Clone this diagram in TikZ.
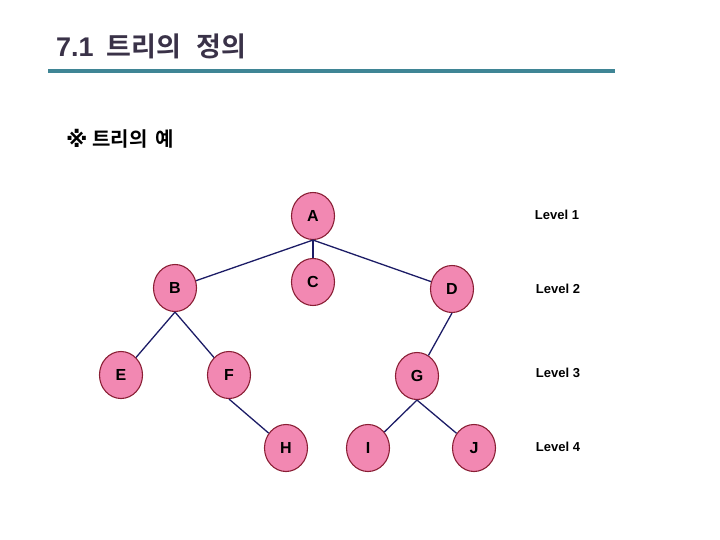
\documentclass[tikz,border=0pt]{standalone}
\usepackage{fontspec}
\setmainfont{Liberation Sans}
\newfontfamily\kr{Noto Sans CJK KR}[BoldFont={Noto Sans CJK KR Bold}]
\newfontfamily\dvs{DejaVu Sans}
\usetikzlibrary{shapes.geometric}
\definecolor{nodefill}{HTML}{F288B2}
\definecolor{nodeline}{HTML}{8A1F35}
\definecolor{edgecol}{HTML}{1C1C66}
\definecolor{titlecol}{HTML}{3A3248}
\definecolor{rulecol}{HTML}{3F8595}
\tikzset{
  tnode/.style={ellipse, draw=nodeline, fill=nodefill, line width=1.1pt,
    minimum width=43pt, minimum height=47pt, inner sep=0pt,
    font=\fontsize{16}{18}\selectfont\bfseries},
  edge/.style={draw=edgecol, line width=1.3pt},
  lvl/.style={font=\fontsize{13}{15}\selectfont\bfseries, anchor=center}
}
\begin{document}
\begin{tikzpicture}[x=1pt,y=-1pt]
\useasboundingbox (0,0) rectangle (720,540);
\node[anchor=west, text=titlecol, inner sep=0pt, font=\fontsize{27}{30}\selectfont\bfseries] (title) at (56,46) {7.1\hspace{13pt}{\kr 트리의\hspace{15pt}정의}};
\fill[rulecol] (48,69) rectangle (615,73.5);
\node[anchor=west, inner sep=0pt, font=\fontsize{20}{22}\selectfont\bfseries] (sub) at (66,139) {\raisebox{-1.5pt}{\dvs\fontsize{22}{24}\selectfont\bfseries ※}\hspace{5pt}{\kr 트리의\hspace{8pt}예}};

\node[tnode] (A) at (313,216) {A};
\node[tnode] (C) at (313,282) {C};
\node[tnode] (B) at (175,288) {B};
\node[tnode] (D) at (452,289) {D};
\node[tnode] (E) at (121,375) {E};
\node[tnode] (F) at (229,375) {F};
\node[tnode] (G) at (417,376) {G};
\node[tnode] (H) at (286,448) {H};
\node[tnode] (I) at (368,448) {I};
\node[tnode] (J) at (474,448) {J};

\draw[edge] (A.south) -- (B);
\draw[edge] (A.south) -- (C);
\draw[edge] (A.south) -- (D);
\draw[edge] (B.south) -- (E);
\draw[edge] (B.south) -- (F);
\draw[edge] (D.south) -- (G);
\draw[edge] (F.south) -- (H);
\draw[edge] (G.south) -- (I);
\draw[edge] (G.south) -- (J);

\node[lvl] (L1) at (557,215) {Level 1};
\node[lvl] (L2) at (558,289) {Level 2};
\node[lvl] (L3) at (558,373) {Level 3};
\node[lvl] (L4) at (558,447) {Level 4};
\end{tikzpicture}
\end{document}
